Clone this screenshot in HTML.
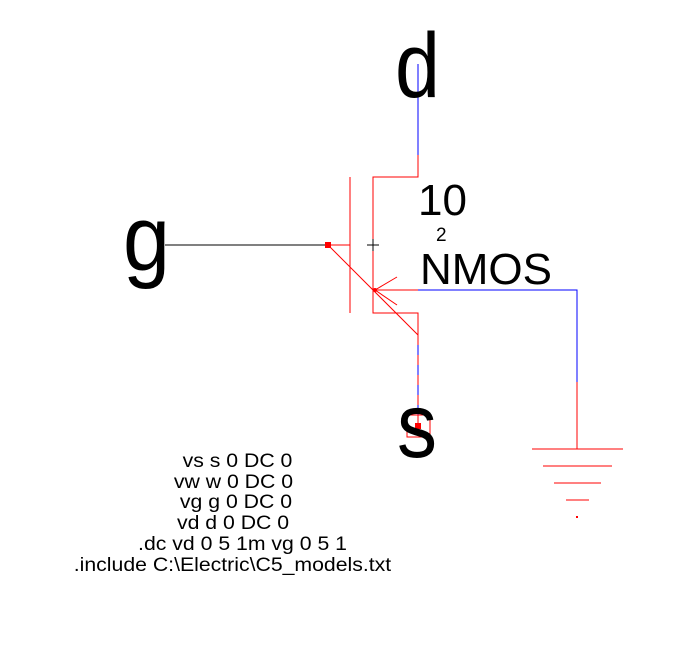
<!DOCTYPE html>
<html><head><meta charset="utf-8"><style>html,body{margin:0;padding:0;background:#fff}svg{display:block}</style></head>
<body>
<svg width="685" height="654" viewBox="0 0 685 654" xmlns="http://www.w3.org/2000/svg" font-family="Liberation Sans, sans-serif">
<g fill="none" stroke-width="1.3" shape-rendering="crispEdges">
<line x1="418" y1="64" x2="418" y2="155" stroke="#00f"/>
<polyline points="418,155 418,177 373,177 373,313 418,313 418,335" stroke="#f00"/>
<line x1="350" y1="177" x2="350" y2="313" stroke="#f00"/>
<line x1="165" y1="245" x2="328" y2="245" stroke="#000"/>
<line x1="328" y1="245" x2="350" y2="245" stroke="#f00"/>
<line x1="367" y1="245" x2="379" y2="245" stroke="#000"/>
<line x1="373" y1="239" x2="373" y2="251" stroke="#000"/>
<line x1="373" y1="290" x2="418" y2="290" stroke="#f00"/>
<polyline points="418,290 577,290 577,382" stroke="#00f"/>
<line x1="577" y1="382" x2="577" y2="449" stroke="#f00"/>
<line x1="418" y1="335" x2="418" y2="426" stroke="#00f"/>
<line x1="418" y1="335" x2="418" y2="426" stroke="#f00" stroke-dasharray="10,10"/>
<rect x="407" y="415" width="23" height="22" stroke="#f00"/>
<line x1="532" y1="449" x2="623" y2="449" stroke="#f00"/>
<line x1="543" y1="466" x2="612" y2="466" stroke="#f00"/>
<line x1="554" y1="483" x2="601" y2="483" stroke="#f00"/>
<line x1="566" y1="500" x2="589" y2="500" stroke="#f00"/>
</g>
<g fill="none" stroke="#f00" stroke-width="1">
<line x1="328" y1="245" x2="418" y2="335"/>
<line x1="375" y1="290" x2="397" y2="277"/>
<line x1="375" y1="290" x2="397" y2="305"/>
</g>
<rect x="576" y="516" width="2" height="2" fill="#f00"/>
<rect x="325" y="242" width="6" height="6" fill="#f00"/>
<rect x="415" y="423" width="6" height="6" fill="#f00"/>
<circle cx="375" cy="290" r="2" fill="#f00"/>
<g fill="#000">
<text x="395" y="97" font-size="92" textLength="45" lengthAdjust="spacingAndGlyphs">d</text>
<text x="123" y="270" font-size="92" textLength="47" lengthAdjust="spacingAndGlyphs">g</text>
<text x="397" y="457" font-size="92" textLength="40" lengthAdjust="spacingAndGlyphs">s</text>
<text x="418" y="215" font-size="44">10</text>
<text x="436" y="241" font-size="19">2</text>
<text x="420" y="284" font-size="44">NMOS</text>
<g font-size="19.5" text-anchor="middle" transform="scale(1.09,1)">
<text x="217.9" y="467">vs s 0 DC 0</text>
<text x="214.2" y="488">vw w 0 DC 0</text>
<text x="216.5" y="508">vg g 0 DC 0</text>
<text x="213.8" y="529">vd d 0 DC 0</text>
<text x="222.5" y="550">.dc vd 0 5 1m vg 0 5 1</text>
<text x="213.3" y="571">.include C:\Electric\C5_models.txt</text>
</g>
</g>
</svg>
</body></html>
